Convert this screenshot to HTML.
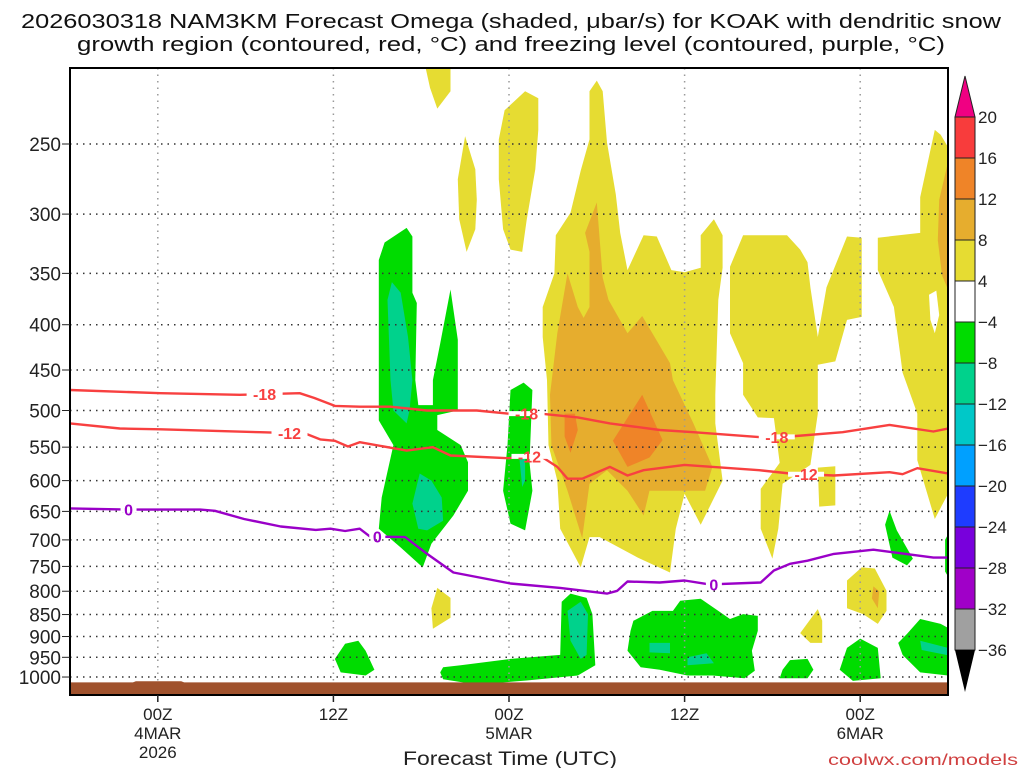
<!DOCTYPE html>
<html><head><meta charset="utf-8">
<style>
html,body{margin:0;padding:0;background:#fff;}
svg{display:block;font-family:"Liberation Sans",sans-serif;}
</style></head>
<body>
<svg id="chart" width="1024" height="768" viewBox="0 0 1024 768" xmlns="http://www.w3.org/2000/svg">
<defs><clipPath id="plotclip"><rect x="70" y="68" width="878" height="627"/></clipPath></defs>
<g font-size="20" fill="#111">
<text x="511" y="28" text-anchor="middle" textLength="980" lengthAdjust="spacingAndGlyphs">2026030318 NAM3KM Forecast Omega (shaded, μbar/s) for KOAK with dendritic snow</text>
<text x="511" y="51" text-anchor="middle" textLength="868" lengthAdjust="spacingAndGlyphs">growth region (contoured, red, °C) and freezing level (contoured, purple, °C)</text>
</g>
<g id="shading" clip-path="url(#plotclip)"></g>
<g id="grid"></g>
<g id="ground"></g>
<g id="contours" clip-path="url(#plotclip)"></g>
<rect x="70" y="68" width="878" height="627" fill="none" stroke="#000" stroke-width="2"/>
<g id="yaxis" font-size="19" fill="#222"></g>
<g id="xaxis" font-size="17" fill="#222"></g>
<text x="510" y="765" text-anchor="middle" font-size="19" fill="#222" textLength="214" lengthAdjust="spacingAndGlyphs">Forecast Time (UTC)</text>
<text x="1018" y="765" text-anchor="end" font-size="16" fill="#d04040" textLength="190" lengthAdjust="spacingAndGlyphs">coolwx.com/models</text>
<g id="colorbar" font-size="17" fill="#222"></g>
</svg>
<script>
const pressureTicks = [250,300,350,400,450,500,550,600,650,700,750,800,850,900,950,1000];
const timeTickHours = [6,18,30,42,54];
const timeTickLabels = [["00Z","4MAR","2026"],["12Z"],["00Z","5MAR"],["12Z"],["00Z","6MAR"]];
const cbLevels = ["20","16","12","8","4","-4","-8","-12","-16","-20","-24","-28","-32","-36"];
const cbColors = ["#f83c3c","#ef8428","#e6ad2e","#e6dc32","#ffffff","#00dc00","#00d28c","#00c8c8","#00a0ff","#1e3cff","#7800dc","#a000c8","#a0a0a0"];
const fzHours = [0,4.1,8.9,9.9,11.9,14.4,16.8,17.8,18.8,19.8,20.5,22.9,24.4,26.2,30.1,33.5,36.7,37.4,38.1,40.3,42,43.7,47.2,48.1,49.2,50.4,52.2,54.9,56,59,60];
const fzPres = [645,647,647,649,663,676,682,680,684,680,694,695,726,762,784,793,805,799,780,782,778,786,782,758,745,739,726,718,722,733,733];
const m12Hours = [0,3.4,6.2,13,16.1,17.1,18.1,19,19.8,23,24.8,26,29.9,32.1,33.3,34,35,36.9,38.1,39.2,42,47.1,49.2,52.2,56,56.9,57.9,60];
const m12Pres = [517,524,525,529,531,539,541,549,543,555,550,562,566,562,579,597,597,579,592,584,576,584,589,592,587,590,581,589];
const m18Hours = [0,6.2,11.6,15.7,16.7,18.1,19.8,21.9,24.4,27.8,29.9,32.1,34.7,36.9,40.3,42.6,47.2,49.2,52.8,56,59,60];
const m18Pres = [474,478,480,478,484,494,495,495,500,500,504,504,509,517,526,529,536,535,529,519,528,524];
const labels18 = [13.3,31.2,48.3];
const labels12 = [15.0,31.4,50.3];
const labels0 = [4.0,21.0,44.0];
const surfHours = [0,4.3,4.5,7.6,7.8,60];
const surfPres = [1014,1014,1011,1011,1014,1014];
const yellowRegions = [
 [[24.3,205],[26,205],[26,218],[25.1,228],[24.6,216]],
 [[27,245],[27.7,267],[27.8,289],[27.7,312],[27.1,331],[26.6,304],[26.5,274]],
 [[31.1,218],[32,222],[32,241],[31.8,267],[31.2,305],[30.9,331],[30.1,329],[29.6,312],[29.3,274],[29.3,247],[29.7,229]],
 [[35.5,218],[36,212],[36.4,218],[36.7,249],[37.3,285],[37.6,315],[38.1,347],[39.2,317],[40.1,318],[41.1,347],[42,349],[43.1,345],[43.1,317],[44,304],[44.6,317],[44.6,345],[44.3,375],[44.1,480],[44.1,517],[44.6,600],[43.1,673],[42,621],[41.4,680],[41,762],[38.8,733],[36.2,695],[35.5,695],[34.9,752],[33.5,680],[33.3,600],[32.7,547],[32.6,462],[32.3,413],[32.3,382],[33.1,350],[33.2,317],[34.2,299],[34.9,268],[35.5,247]],
 [[45.1,344],[46,317],[49,317],[49.9,329],[50.4,340],[50.6,363],[51.1,413],[51.7,363],[53.1,318],[54.1,319],[54.1,392],[53.1,395],[52.3,440],[51.1,444],[51.1,504],[50.6,576],[48.7,605],[48.4,680],[48,735],[47.2,680],[47.2,613],[48.5,573],[48.1,510],[47,509],[46,480],[46,442],[45.1,409]],
 [[55.2,319],[58.1,315],[58.1,287],[59.1,241],[59.5,244],[60,252],[60,621],[59.1,663],[57.9,569],[57.9,504],[56.9,453],[56.3,382],[55.2,347]],
 [[51.1,580],[52.3,578],[52.3,640],[51.2,642]],
 [[54.1,752],[55,754],[55.8,799],[55.8,842],[55.2,871],[54.2,849],[53.1,836],[53.1,778]],
 [[51.1,838],[51.4,864],[51.4,915],[50.6,915],[49.9,892]],
 [[25.1,793],[26,814],[26,857],[24.8,882],[24.7,836]]
];
const whiteHoles = [[[58.7,370],[59.2,366],[59.4,390],[59.1,409],[58.8,395]]];
const orange1Regions = [
 [[36,291],[36.4,354],[36.8,375],[38.1,409],[39.1,391],[41,442],[41.2,462],[42.6,517],[43.9,579],[43.4,616],[41.7,616],[39.6,616],[39.2,657],[38.1,616],[36.7,584],[35.5,605],[35,697],[34,616],[32.9,547],[32.8,480],[33.3,409],[34,350],[34.7,382],[35.1,393],[35.5,382],[35.5,331],[35.2,315]],
 [[60,262],[59.4,289],[59.3,321],[59.6,352],[60,365]],
 [[54.9,790],[55.3,800],[55.2,836],[54.8,815]]
];
const orange2Regions = [
 [[33.8,504],[34.5,504],[34.7,526],[34.2,558],[33.8,535]],
 [[37.1,541],[39.1,480],[40.5,540],[39.6,565],[38.1,579]]
];
const greenRegions = [
 [[21.1,338],[21.5,323],[23,311],[23.4,318],[23.4,368],[23.7,378],[23.6,462],[23.8,493],[24.8,493],[24.8,462],[25.3,420],[26,365],[26.5,416],[26.5,462],[26.5,500],[25.1,506],[25.1,526],[26.7,547],[27.2,572],[27.2,616],[26.2,657],[24.7,707],[24.1,752],[22.6,714],[21.1,680],[21.3,627],[22.1,547],[21.1,513],[21.1,462]],
 [[30.1,474],[31,465],[31.6,474],[31.4,572],[31.6,616],[31.1,683],[30.1,671],[29.6,616],[29.9,547]],
 [[25.5,975],[26.7,970],[30.1,954],[33.5,944],[33.6,822],[34.2,805],[35.3,814],[35.7,849],[35.9,970],[34.7,996],[31.2,1009],[27.8,1020],[25.5,1006],[25.3,988]],
 [[38.5,864],[39.8,842],[41.2,842],[41.7,820],[43.1,816],[44.3,842],[45.1,860],[46,849],[47,853],[47,887],[46.6,934],[46.8,984],[46.1,1003],[43.9,996],[42.2,996],[40.3,981],[39,975],[38.1,934],[38.3,887]],
 [[48.7,981],[49.2,957],[50.4,954],[50.8,981],[50.4,1003],[48.5,1003]],
 [[54,905],[55.2,927],[55.4,1003],[53.5,1010],[52.6,981],[53.1,927]],
 [[58.1,860],[59.5,871],[60,880],[60,996],[58.1,988],[56.9,944],[56.6,915],[57.2,894]],
 [[56,649],[56.5,683],[57.6,735],[57.2,748],[56.2,733],[55.7,673]],
 [[18.8,917],[19.7,910],[20.2,934],[20.8,981],[20.2,996],[18.5,988],[18.1,954]],
 [[59.8,700],[60,690],[60,770],[59.8,760]]
];
const tealRegions = [
 [[21.7,375],[22,358],[22.6,368],[23.1,413],[23.4,462],[23.2,500],[23,517],[22.1,500],[21.9,462]],
 [[23.9,589],[24.7,600],[25.4,627],[25.5,666],[24.4,683],[23.8,680],[23.4,637]],
 [[30.7,563],[31.1,560],[31.1,600],[30.9,610]],
 [[34,842],[34.9,822],[35.4,849],[35.3,944],[34.9,954],[34.2,910]],
 [[39.6,915],[41,915],[41,940],[39.6,938]],
 [[42.2,950],[43.5,940],[44,965],[42.2,970]],
 [[58.1,910],[60,927],[60,945],[58.2,932]]
];
const X0=70, X1=948, HMAX=60;
function X(h){return X0 + h*(X1-X0)/HMAX;}
function Y(p){return 144 + Math.log(p/250)*384.5;}
const NS="http://www.w3.org/2000/svg";
function mk(tag, attrs, parent){const e=document.createElementNS(NS,tag);for(const k in attrs)e.setAttribute(k,attrs[k]);parent.appendChild(e);return e;}
function ptsStr(poly){return poly.map(q=>X(q[0]).toFixed(1)+","+Y(q[1]).toFixed(1)).join(" ");}
const shading=document.getElementById("shading");
function drawRegions(list,color,name){
 list.forEach(poly=>{
  const e=mk("polygon",{points:ptsStr(poly),fill:color},shading);
  
  
 });
}
drawRegions(yellowRegions,"#e6dc32","omega-4-8-region");
drawRegions(whiteHoles,"#ffffff","omega-neutral-hole");
drawRegions(orange1Regions,"#e6ad2e","omega-8-12-region");
drawRegions(orange2Regions,"#ef8428","omega-12-16-region");
drawRegions(greenRegions,"#00dc00","omega-neg4-neg8-region");
drawRegions(tealRegions,"#00d28c","omega-neg8-neg12-region");
const grid=document.getElementById("grid");
pressureTicks.forEach(p=>{
 const l=mk("line",{x1:X0,x2:X1,y1:Y(p),y2:Y(p),stroke:"#333","stroke-width":1.5,"stroke-dasharray":"1.5 5"},grid);
 
 
});
timeTickHours.forEach(h=>{
 const l=mk("line",{x1:X(h),x2:X(h),y1:68,y2:695,stroke:"#999","stroke-width":1.5,"stroke-dasharray":"1.5 5"},grid);
 
 
});
const ground=document.getElementById("ground");
let gpts=surfHours.map((h,i)=>X(h)+","+Y(surfPres[i])).join(" ");
gpts+=" "+X1+",694 "+X0+",694";
const gp=mk("polygon",{points:gpts,fill:"#a0522d"},ground);


const cont=document.getElementById("contours");
function interp(hs,ps,h){for(let i=0;i<hs.length-1;i++){if(h>=hs[i]&&h<=hs[i+1]){const t=(h-hs[i])/(hs[i+1]-hs[i]);return ps[i]+t*(ps[i+1]-ps[i]);}}return ps[ps.length-1];}
function drawLine(hs,ps,color,name,labs,txt){
 const d=hs.map((h,i)=>(i?"L":"M")+X(h).toFixed(1)+","+Y(ps[i]).toFixed(1)).join("");
 const e=mk("path",{d:d,fill:"none",stroke:color,"stroke-width":2.4,"stroke-linejoin":"round"},cont);
 
 
 labs.forEach(h=>{
  const x=X(h), y=Y(interp(hs,ps,h));
  const w=txt.length*10+6;
  mk("line",{x1:x-w/2,x2:x+w/2,y1:y,y2:y,stroke:"#fff","stroke-width":5},cont);
  const t=mk("text",{x:x,y:y+6,"text-anchor":"middle","font-size":16,"font-weight":"bold",fill:color},cont);
  t.textContent=txt;
  
  
 });
}
drawLine(m18Hours,m18Pres,"#f84040","contour-minus-18c",labels18,"-18");
drawLine(m12Hours,m12Pres,"#f84040","contour-minus-12c",labels12,"-12");
drawLine(fzHours,fzPres,"#9a00c8","freezing-level-0c",labels0,"0");
const ya=document.getElementById("yaxis");
pressureTicks.forEach(p=>{
 const tk=mk("line",{x1:62,x2:70,y1:Y(p),y2:Y(p),stroke:"#222","stroke-width":1},ya);
 
 
 const t=mk("text",{x:61,y:Y(p)+7,"text-anchor":"end"},ya);
 t.textContent=String(p);
 
 
});
const xa=document.getElementById("xaxis");
timeTickHours.forEach((h,i)=>{
 const tk=mk("line",{x1:X(h),x2:X(h),y1:695,y2:702,stroke:"#222","stroke-width":1.5},xa);
 
 
 timeTickLabels[i].forEach((s,j)=>{
  const t=mk("text",{x:X(h),y:720+j*19,"text-anchor":"middle"},xa);
  t.textContent=s;
  
  
 });
});
const cb=document.getElementById("colorbar");
const CBX=955, CBW=20, CBY=117, CBH=41;
const cbTopArrow=mk("polygon",{points:`${CBX},${CBY} ${CBX+CBW/2},76 ${CBX+CBW},${CBY}`,fill:"#f00082",stroke:"#222","stroke-width":1},cb);


cbColors.forEach((c,i)=>{
 const r=mk("rect",{x:CBX,y:CBY+i*CBH,width:CBW,height:CBH,fill:c,stroke:"#222","stroke-width":1},cb);
 
 
});
const cbBottomY=CBY+cbColors.length*CBH;
const cbBotArrow=mk("polygon",{points:`${CBX},${cbBottomY} ${CBX+CBW/2},${cbBottomY+42} ${CBX+CBW},${cbBottomY}`,fill:"#000"},cb);


cbLevels.forEach((s,i)=>{
 const t=mk("text",{x:978,y:CBY+i*CBH+6},cb);
 t.textContent=s.replace("-","\u2212");
 
 
});
</script>
</body></html>
